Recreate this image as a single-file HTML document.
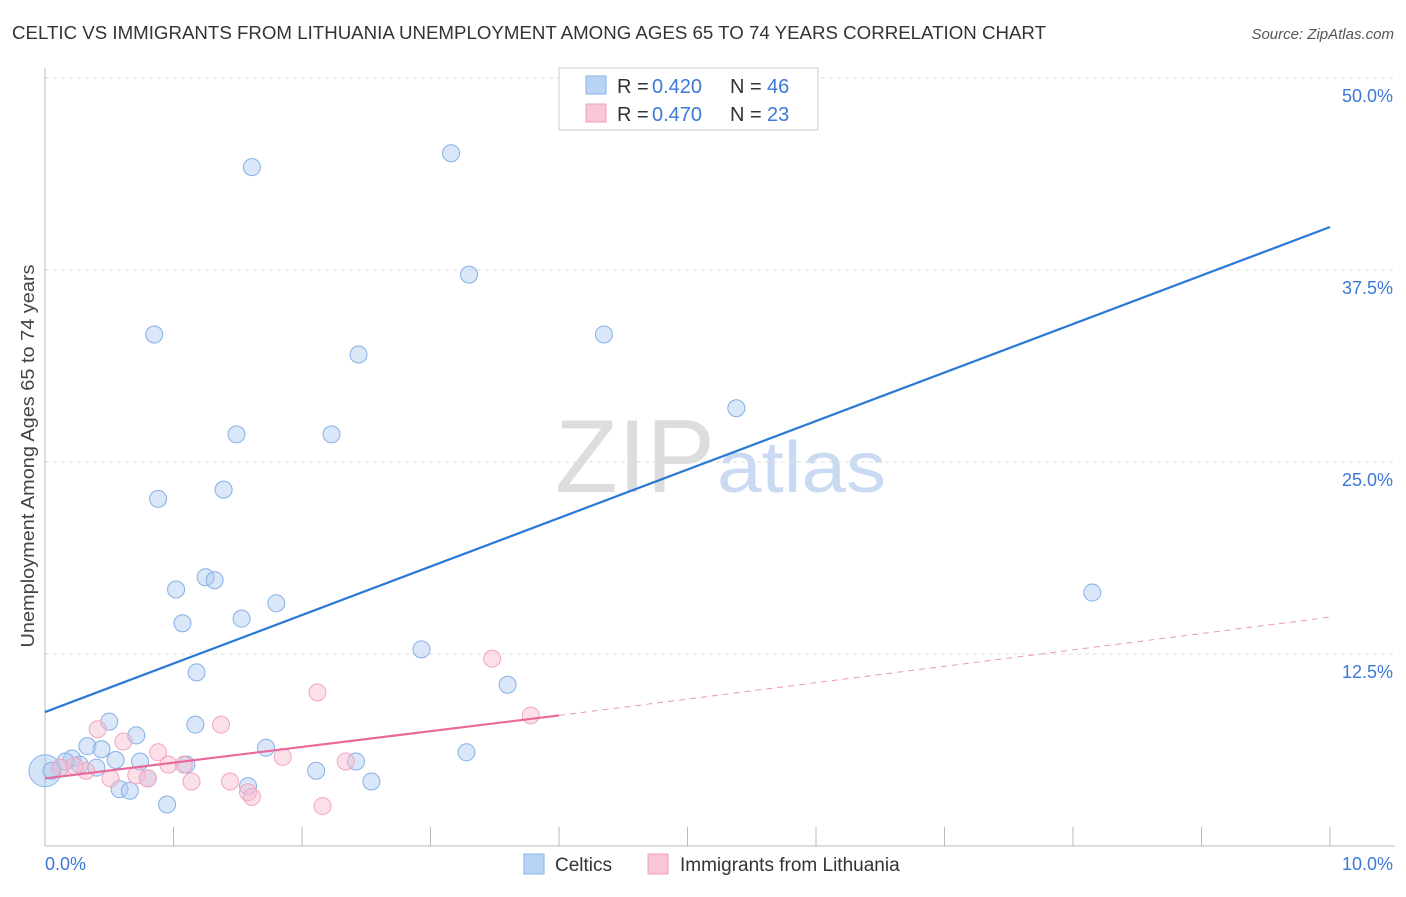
<!DOCTYPE html>
<html><head><meta charset="utf-8"><style>
body{margin:0;background:#fff;font-family:"Liberation Sans",sans-serif;}
svg text{font-family:"Liberation Sans",sans-serif;}
</style></head><body>
<svg width="1406" height="892" id="chart">
<text x="12" y="39" font-size="18" fill="#333" textLength="1034" lengthAdjust="spacingAndGlyphs">CELTIC VS IMMIGRANTS FROM LITHUANIA UNEMPLOYMENT AMONG AGES 65 TO 74 YEARS CORRELATION CHART</text>
<text x="1394" y="39" font-size="15" fill="#555" font-style="italic" text-anchor="end">Source: ZipAtlas.com</text>
<text x="34" y="456" font-size="18" fill="#444" text-anchor="middle" textLength="383" lengthAdjust="spacingAndGlyphs" transform="rotate(-90 34 456)">Unemployment Among Ages 65 to 74 years</text>
<text x="555" y="492" font-size="104" fill="#ddd" font-family="Liberation Serif" textLength="160" lengthAdjust="spacingAndGlyphs">ZIP</text>
<text x="717" y="492" font-size="72" fill="#c9daf2" textLength="169" lengthAdjust="spacingAndGlyphs">atlas</text>
<g id="grid"></g><g id="pts"></g><g id="lines"></g>
<g>
<rect x="559" y="68" width="259" height="62" fill="#fff" stroke="#ccc"/>
<rect x="586" y="76" width="20" height="18" fill="#b9d3f5" stroke="#8ab4e8"/>
<rect x="586" y="104" width="20" height="18" fill="#f9c6d6" stroke="#f0a0bb"/>
<text y="93" font-size="20" fill="#333"><tspan x="617">R =</tspan><tspan x="652" fill="#3b78d8">0.420</tspan><tspan x="730">N =</tspan><tspan x="767" fill="#3b78d8">46</tspan></text>
<text y="121" font-size="20" fill="#333"><tspan x="617">R =</tspan><tspan x="652" fill="#3b78d8">0.470</tspan><tspan x="730">N =</tspan><tspan x="767" fill="#3b78d8">23</tspan></text>
</g>
<g>
<rect x="524" y="854" width="20" height="20" fill="#b9d3f5" stroke="#8ab4e8"/>
<text x="555" y="871" font-size="19" fill="#333">Celtics</text>
<rect x="648" y="854" width="20" height="20" fill="#f9c6d6" stroke="#f0a0bb"/>
<text x="680" y="871" font-size="19" fill="#333">Immigrants from Lithuania</text>
</g>
</svg>
<script>
const yTicks=[12.5,25,37.5,50];
const yTickLabels=["12.5%","25.0%","37.5%","50.0%"];
const xLabels=["0.0%","10.0%"];
const blueX=[1.61,3.16,3.30,0.85,4.35,2.44,5.38,1.49,2.23,0.88,1.39,1.25,1.32,1.02,1.80,8.15,1.07,1.53,2.93,1.18,3.60,0.50,1.17,0.71,0.33,0.44,1.72,3.28,0.21,0.55,0.74,2.42,1.10,0.27,0.40,0.12,0.05,2.11,1.58,2.54,0.58,0.66,0.95,0.80,0.16];
const blueY=[44.2,45.1,37.2,33.3,33.3,32.0,28.5,26.8,26.8,22.6,23.2,17.5,17.3,16.7,15.8,16.5,14.5,14.8,12.8,11.3,10.5,8.1,7.9,7.2,6.5,6.3,6.4,6.1,5.7,5.6,5.5,5.5,5.3,5.3,5.1,5.1,4.9,4.9,3.9,4.2,3.7,3.6,2.7,4.4,5.5];
const pinkX=[0.41,0.61,0.88,0.96,1.08,0.51,0.71,0.80,1.14,1.44,1.58,1.61,1.85,2.12,2.34,2.16,3.48,3.78,1.37,0.32,0.12,0.23];
const pinkY=[7.6,6.8,6.1,5.3,5.3,4.4,4.6,4.4,4.2,4.2,3.5,3.2,5.8,10.0,5.5,2.6,12.2,8.5,7.9,4.9,5.1,5.2];
const bigX=[0],bigYBlue=[4.9],bigYPink=[4.9];
const blueLine=[[0,8.72],[10,40.3]];
const pinkLine=[[0,4.4],[4,8.5]];
const pinkDash=[[4,8.5],[10,14.9]];
const NS="http://www.w3.org/2000/svg";
const sx=v=>45+v*128.5, sy=v=>846-v*15.36;
function mk(p,t,a){const e=document.createElementNS(NS,t);for(const k in a)e.setAttribute(k,a[k]);document.getElementById(p).appendChild(e);return e;}
yTicks.forEach((t,i)=>{
 const l=mk('grid','line',{x1:45,x2:1395,y1:sy(t),y2:sy(t),stroke:'#ddd','stroke-dasharray':'4,4'});
 
 
 const tx=mk('grid','text',{x:1393,y:sy(t)+24,'font-size':18,fill:'#3b78d8','text-anchor':'end'});tx.textContent=yTickLabels[i];
 
 
});
const ax=mk('grid','line',{x1:45,x2:45,y1:68,y2:846,stroke:'#bbb'});


const bx=mk('grid','line',{x1:45,x2:1395,y1:846,y2:846,stroke:'#bbb'});


for(let i=0;i<=10;i++){const t=mk('grid','line',{x1:sx(i),x2:sx(i),y1:827,y2:846,stroke:'#bbb'});
 
 }
[[0,'start',45],[10,'end',1393]].forEach((d,i)=>{const t=mk('grid','text',{x:d[2],y:870,'font-size':18,fill:'#3b78d8','text-anchor':d[1]});t.textContent=xLabels[i];
 
 });
function dots(X,Y,f,s,r,n){X.forEach((x,i)=>{const c=mk('pts','circle',{cx:sx(x),cy:sy(Y[i]),r:r,fill:f,stroke:s,'stroke-width':1});
 
 });}
dots(bigX,bigYBlue,'rgba(160,196,240,0.45)','#8ab4e8',16,'celtics-point');
dots(blueX,blueY,'rgba(170,202,242,0.45)','#86b0e6',8.5,'celtics-point');
dots(pinkX,pinkY,'rgba(248,186,206,0.45)','#f0a6c0',8.5,'lithuania-point');
function ln(p,c,w,d,n){const l=mk('lines','line',{x1:sx(p[0][0]),y1:sy(p[0][1]),x2:sx(p[1][0]),y2:sy(p[1][1]),stroke:c,'stroke-width':w});if(d)l.setAttribute('stroke-dasharray',d);
 
 }
ln(blueLine,'#2a78d6',2.2,null,'celtics-trend-line');
ln(pinkLine,'#e86a9a',2.2,null,'lithuania-trend-line');
ln(pinkDash,'#e89ab5',1,'6,5','lithuania-trend-extension');
</script>
</body></html>
